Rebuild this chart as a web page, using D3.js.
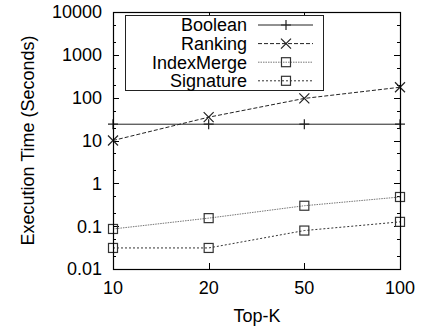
<!DOCTYPE html>
<html lang='en'>
<head>
<meta charset='utf-8'>
<script src='https://cdnjs.cloudflare.com/ajax/libs/d3/7.8.5/d3.min.js'></script>
<title>Top-K execution time</title>
<style>
body { margin:0; background:white; }
svg text { font-family:'Liberation Sans', Arial, sans-serif; font-size:18px; fill:black; }
</style>
</head>
<body>
<script>
// data
var topK = [10, 20, 50, 100];
var yTicks = [0.01, 0.1, 1, 10, 100, 1000, 10000];
var yTickLabels = ['0.01', '0.1', '1', '10', '100', '1000', '10000'];
var booleanTime = [24, 24, 24, 24];
var rankingTime = [10, 35, 96, 175];
var indexMergeTime = [0.086, 0.154, 0.30, 0.48];
var signatureTime = [0.031, 0.031, 0.079, 0.126];

var series = [
   {name:'Boolean', values:booleanTime, marker:'plus', dash:null, col:'#222'},
   {name:'Ranking', values:rankingTime, marker:'cross', dash:'4,2', col:'#222'},
   {name:'IndexMerge', values:indexMergeTime, marker:'square', dash:'1.5,1', col:'#777'},
   {name:'Signature', values:signatureTime, marker:'square', dash:'2,2', col:'#333'}
];

var W = 431, H = 331;
var pLeft = 113, pRight = 400, pTop = 12, pBottom = 269;

var svg = d3.select('body').append('svg').attr('width', W).attr('height', H);

var x = d3.scalePoint().domain(topK).range([pLeft, pRight]);
var y = d3.scaleLog().domain([0.01, 10000]).range([pBottom, pTop]);

// minor ticks at 2 and 5 of each decade
var minor = [];
yTicks.forEach(function(t) {
   if (t < 10000) { minor.push(t * 2); minor.push(t * 5); }
});

var ticks = svg.append('g').attr('stroke', '#000').attr('stroke-width', 1);
yTicks.forEach(function(t) {
   var yy = Math.round(y(t)) + 0.5;
   ticks.append('line').attr('x1', pLeft).attr('x2', pLeft + 6).attr('y1', yy).attr('y2', yy);
   ticks.append('line').attr('x1', pRight).attr('x2', pRight - 6).attr('y1', yy).attr('y2', yy);
});
minor.forEach(function(t) {
   var yy = Math.round(y(t)) + 0.5;
   ticks.append('line').attr('x1', pLeft).attr('x2', pLeft + 3).attr('y1', yy).attr('y2', yy);
   ticks.append('line').attr('x1', pRight).attr('x2', pRight - 3).attr('y1', yy).attr('y2', yy);
});
topK.forEach(function(k) {
   var xx = Math.round(x(k)) + 0.5;
   ticks.append('line').attr('x1', xx).attr('x2', xx).attr('y1', pBottom).attr('y2', pBottom - 6);
   ticks.append('line').attr('x1', xx).attr('x2', xx).attr('y1', pTop).attr('y2', pTop + 6);
});

// tick labels
svg.append('g').selectAll('text').data(yTicks).enter().append('text')
   .attr('x', 102).attr('y', function(d){return y(d);}).attr('dy', '0.36em')
   .attr('text-anchor', 'end').text(function(d, i){return yTickLabels[i];});
svg.append('g').selectAll('text').data(topK).enter().append('text')
   .attr('x', function(d){return x(d);}).attr('y', 294)
   .attr('text-anchor', 'middle').text(function(d){return d;});

svg.append('text').attr('x', 257).attr('y', 322).attr('text-anchor', 'middle').text('Top-K');
svg.append('text').attr('transform', 'translate(34,' + ((pTop + pBottom) / 2) + ') rotate(-90)')
   .attr('text-anchor', 'middle').text('Execution Time (Seconds)');

function drawMarker(g, kind, cx, cy, col) {
   if (kind === 'plus') {
      g.append('path').attr('d', 'M' + (cx - 5) + ',' + cy + 'H' + (cx + 5) + 'M' + cx + ',' + (cy - 5) + 'V' + (cy + 5))
         .attr('stroke', col).attr('stroke-width', 1.2).attr('fill', 'none');
   } else if (kind === 'cross') {
      g.append('path').attr('d', 'M' + (cx - 5) + ',' + (cy - 5) + 'L' + (cx + 5) + ',' + (cy + 5) + 'M' + (cx - 5) + ',' + (cy + 5) + 'L' + (cx + 5) + ',' + (cy - 5))
         .attr('stroke', col).attr('stroke-width', 1.2).attr('fill', 'none');
   } else {
      g.append('rect').attr('x', cx - 4.5).attr('y', cy - 4.5).attr('width', 9).attr('height', 9)
         .attr('stroke', '#333').attr('stroke-width', 1.2).attr('fill', 'none');
   }
}

var line = d3.line().x(function(d, i){return x(topK[i]);}).y(function(d){return y(d);});

series.forEach(function(s) {
   var g = svg.append('g');
   g.append('path').attr('d', line(s.values)).attr('fill', 'none')
      .attr('stroke', s.col).attr('stroke-width', 1)
      .attr('stroke-dasharray', s.dash);
   s.values.forEach(function(v, i) { drawMarker(g, s.marker, x(topK[i]), y(v), s.col); });
});

// frame
svg.append('rect').attr('x', pLeft + 0.5).attr('y', pTop + 0.5).attr('width', pRight - pLeft).attr('height', pBottom - pTop)
   .attr('fill', 'none').attr('stroke', '#000').attr('stroke-width', 1.2);

// legend
var lg = svg.append('g');
lg.append('rect').attr('x', 125.5).attr('y', 15.5).attr('width', 198).attr('height', 75)
   .attr('fill', 'white').attr('stroke', '#222').attr('stroke-width', 1);
series.forEach(function(s, i) {
   var ly = 25 + i * 18.6;
   lg.append('text').attr('x', 247).attr('y', ly).attr('dy', '0.36em').attr('text-anchor', 'end').text(s.name);
   lg.append('line').attr('x1', 258).attr('x2', 313).attr('y1', ly).attr('y2', ly)
      .attr('stroke', s.col).attr('stroke-width', 1).attr('stroke-dasharray', s.dash);
   drawMarker(lg, s.marker, 286, ly, s.col);
});
</script>
</body>
</html>
